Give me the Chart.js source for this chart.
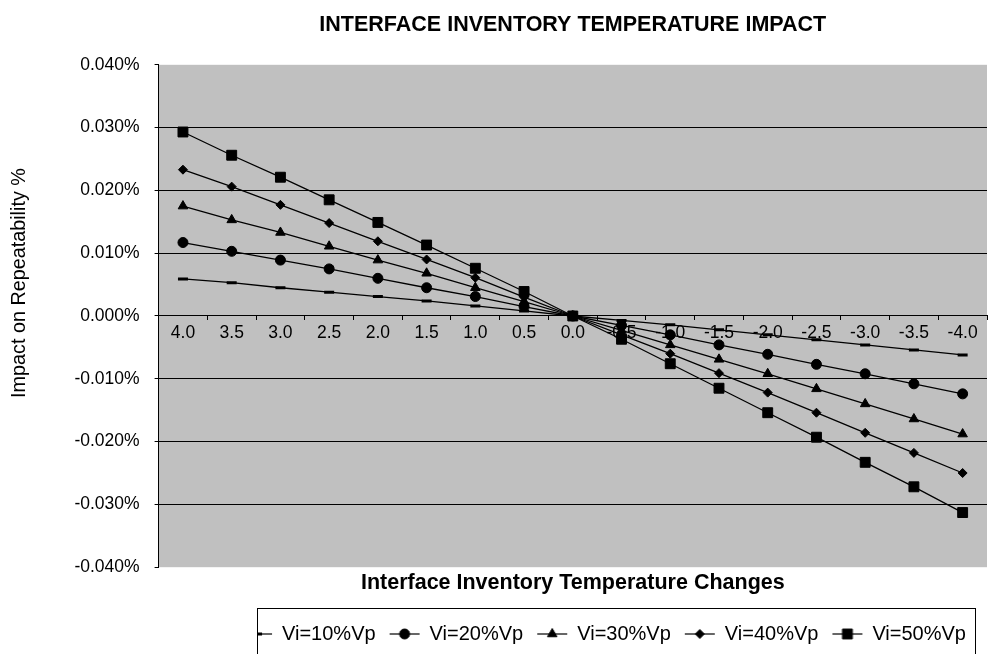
<!DOCTYPE html>
<html>
<head>
<meta charset="utf-8">
<title>Interface Inventory Temperature Impact</title>
<script src="https://cdn.jsdelivr.net/npm/chart.js@4.4.0/dist/chart.umd.min.js"></script>
<style>
  html, body { margin: 0; padding: 0; background: #fff; }
  #wrap { width: 995px; height: 654px; }
</style>
</head>
<body>
<div id="wrap"><canvas id="chart" width="995" height="654"></canvas></div>
<script>
// temperature change categories (x axis, left to right)
const categories = ['4.0', '3.5', '3.0', '2.5', '2.0', '1.5', '1.0', '0.5', '0.0',
  '-0.5', '-1.0', '-1.5', '-2.0', '-2.5', '-3.0', '-3.5', '-4.0'];

// impact on repeatability, in percent
const vi10 = [0.0059, 0.0053, 0.0045, 0.0038, 0.0031, 0.0024, 0.0016, 0.0008, 0,
  -0.0007, -0.0014, -0.0022, -0.0030, -0.0038, -0.0046, -0.0054, -0.0062];
const vi20 = [0.0117, 0.0103, 0.0089, 0.0075, 0.0060, 0.0045, 0.0031, 0.0015, 0,
  -0.0015, -0.0030, -0.0046, -0.0061, -0.0077, -0.0092, -0.0108, -0.0124];
const vi30 = [0.0175, 0.0153, 0.0133, 0.0111, 0.0089, 0.0068, 0.0045, 0.0023, 0,
  -0.0023, -0.0046, -0.0069, -0.0092, -0.0116, -0.0140, -0.0164, -0.0188];
const vi40 = [0.0233, 0.0206, 0.0177, 0.0148, 0.0119, 0.0090, 0.0061, 0.0030, 0,
  -0.0030, -0.0060, -0.0091, -0.0122, -0.0154, -0.0186, -0.0218, -0.0250];
const vi50 = [0.0293, 0.0256, 0.0221, 0.0185, 0.0149, 0.0113, 0.0076, 0.0039, 0,
  -0.0037, -0.0076, -0.0115, -0.0154, -0.0193, -0.0233, -0.0272, -0.0313];

const seriesNames = ['Vi=10%Vp', 'Vi=20%Vp', 'Vi=30%Vp', 'Vi=40%Vp', 'Vi=50%Vp'];
const seriesData = [vi10, vi20, vi30, vi40, vi50];

// y axis ticks
const yMin = -0.04;
const yMax = 0.04;
const yStep = 0.01;

const FONT = '"Liberation Sans", Arial, sans-serif';

// marker look for each series
const markers = [
  { style: 'line', radius: 5, border: 3 },
  { style: 'circle', radius: 5, border: 1 },
  { style: 'triangle', radius: 5.5, border: 1 },
  { style: 'rectRot', radius: 4.5, border: 1 },
  { style: 'rect', radius: 7, border: 1 }
];

// small legend icons: a line with the marker in the middle
function drawMarker(ctx, m, x, y) {
  const r = m.radius;
  ctx.beginPath();
  if (m.style === 'line') {
    ctx.lineWidth = m.border;
    ctx.moveTo(x - r, y);
    ctx.lineTo(x + r, y);
    ctx.stroke();
    return;
  }
  if (m.style === 'circle') {
    ctx.arc(x, y, r, 0, Math.PI * 2);
  } else if (m.style === 'triangle') {
    ctx.moveTo(x, y - r);
    ctx.lineTo(x + r * 0.866, y + r * 0.5);
    ctx.lineTo(x - r * 0.866, y + r * 0.5);
    ctx.closePath();
  } else if (m.style === 'rectRot') {
    ctx.moveTo(x, y - r);
    ctx.lineTo(x + r, y);
    ctx.lineTo(x, y + r);
    ctx.lineTo(x - r, y);
    ctx.closePath();
  } else {
    const s = r * Math.SQRT1_2;
    ctx.rect(x - s, y - s, s * 2, s * 2);
  }
  ctx.fill();
  ctx.lineWidth = 1;
  ctx.stroke();
}

const legendIcons = markers.map(m => {
  const c = document.createElement('canvas');
  c.width = 34;
  c.height = 16;
  const g = c.getContext('2d');
  g.strokeStyle = '#000';
  g.fillStyle = '#000';
  g.lineWidth = 1.2;
  g.beginPath();
  g.moveTo(2, 8);
  g.lineTo(32, 8);
  g.stroke();
  drawMarker(g, m, 17, 8);
  return c;
});

const datasets = seriesNames.map((name, i) => ({
  label: name,
  data: seriesData[i],
  borderColor: '#000',
  backgroundColor: '#000',
  borderWidth: 1.3,
  pointStyle: markers[i].style,
  pointRadius: markers[i].radius,
  pointHoverRadius: markers[i].radius,
  pointBorderWidth: markers[i].border,
  pointBackgroundColor: '#000',
  pointBorderColor: '#000',
  tension: 0,
  fill: false
}));

// gray plot area
const plotBackground = {
  id: 'plotBackground',
  beforeDraw(chart) {
    const { ctx, chartArea } = chart;
    ctx.save();
    ctx.fillStyle = '#fff';
    ctx.fillRect(0, 0, chart.width, chart.height);
    ctx.fillStyle = '#c0c0c0';
    ctx.fillRect(chartArea.left, chartArea.top, chartArea.right - chartArea.left, chartArea.bottom - chartArea.top);
    ctx.restore();
  }
};

// legend sits right of centre in the original
const LEGEND_SHIFT = 104;
const legendShift = {
  id: 'legendShift',
  afterLayout(chart) {
    const lg = chart.legend;
    if (!lg) return;
    lg.left += LEGEND_SHIFT;
    lg.right += LEGEND_SHIFT;
  }
};

// frame around the legend (first icon is cut by the frame, as in the original)
const legendFrame = {
  id: 'legendFrame',
  afterDraw(chart) {
    const lg = chart.legend;
    if (!lg || !lg.legendHitBoxes.length) return;
    const hb = lg.legendHitBoxes;
    const last = hb[hb.length - 1];
    const x0 = Math.round(hb[0].left + 15) + 0.5;
    const x1 = Math.round(last.left + last.width + 9) + 0.5;
    const y0 = Math.round(lg.top - 2) + 0.5;
    const ctx = chart.ctx;
    ctx.save();
    ctx.fillStyle = '#fff';
    ctx.fillRect(x0 - 30, y0 - 1, 30, chart.height);
    ctx.strokeStyle = '#000';
    ctx.lineWidth = 1;
    ctx.strokeRect(x0, y0, x1 - x0, chart.height - y0 + 5);
    ctx.restore();
  }
};

const isEdge = v => Math.abs(Math.abs(v) - yMax) < 1e-9;

new Chart(document.getElementById('chart'), {
  type: 'line',
  data: { labels: categories, datasets: datasets },
  plugins: [plotBackground, legendShift, legendFrame],
  options: {
    responsive: false,
    animation: false,
    events: [],
    layout: { padding: { left: 0, right: -5, top: 0, bottom: 0 } },
    scales: {
      x: {
        type: 'category',
        position: { y: 0 },
        offset: true,
        grid: {
          offset: true,
          drawOnChartArea: false,
          drawTicks: true,
          tickLength: 4,
          color: '#000',
          tickColor: '#000'
        },
        border: { display: true, color: '#000', width: 1 },
        ticks: {
          color: '#000',
          padding: 3,
          maxRotation: 0,
          autoSkip: false,
          font: { family: FONT, size: 17.5 }
        }
      },
      y: {
        min: yMin,
        max: yMax,
        afterFit(scale) { scale.width = 158.6; },
        grid: {
          color: ctx => isEdge(ctx.tick.value) ? 'rgba(0,0,0,0)' : '#000',
          tickColor: '#000',
          lineWidth: 1,
          tickLength: 4
        },
        border: { display: true, color: '#000', width: 1 },
        ticks: {
          stepSize: yStep,
          color: '#000',
          padding: 15,
          font: { family: FONT, size: 17.5 },
          callback: v => (Math.abs(v) < 1e-9 ? 0 : v).toFixed(3) + '%'
        },
        title: {
          display: true,
          // leading spaces lift the centred title a little, as in the original
          text: '            Impact on Repeatability %',
          color: '#000',
          padding: { top: 8, bottom: 0 },
          font: { family: FONT, size: 19.8 }
        }
      }
    },
    plugins: {
      tooltip: { enabled: false },
      title: {
        display: true,
        fullSize: false,
        text: 'INTERFACE INVENTORY TEMPERATURE IMPACT',
        color: '#000',
        padding: { top: 12, bottom: 27 },
        font: { family: FONT, size: 21.5, weight: 'bold' }
      },
      subtitle: {
        display: true,
        fullSize: false,
        position: 'bottom',
        weight: 1500,
        text: 'Interface Inventory Temperature Changes',
        color: '#000',
        padding: { top: 3, bottom: 14 },
        font: { family: FONT, size: 21.5, weight: 'bold' }
      },
      legend: {
        display: true,
        position: 'bottom',
        weight: 2000,
        labels: {
          usePointStyle: true,
          pointStyleWidth: 30,
          padding: 14,
          color: '#000',
          font: { family: FONT, size: 20 },
          generateLabels(chart) {
            const items = Chart.defaults.plugins.legend.labels.generateLabels(chart);
            items.forEach((it, i) => {
              it.pointStyle = legendIcons[i];
              it.fontColor = '#000';
            });
            return items;
          }
        }
      }
    }
  }
});
</script>
</body>
</html>
